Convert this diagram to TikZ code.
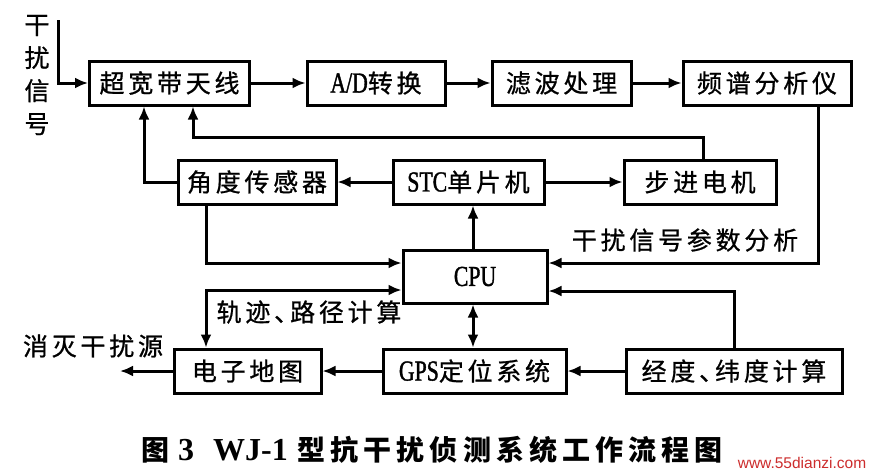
\documentclass[tikz,border=0pt]{standalone}
\usepackage{fontspec}
\setmainfont{Liberation Serif}
\newfontfamily\cjk{Noto Sans CJK SC}[LetterSpace=15,FakeBold=0.8]
\newfontfamily\cjkcap{Noto Sans CJK SC}[LetterSpace=18]
\newfontfamily\latn{Liberation Serif}[FakeStretch=0.75,FakeBold=1.3]
\newfontfamily\wmfont{Liberation Sans}
\usetikzlibrary{arrows.meta,calc}
\definecolor{wmred}{RGB}{205,45,45}
\newcommand\bxf{\cjk\fontsize{25}{30}\selectfont}
\newcommand\latx[1]{{\latn\fontsize{29}{30}\selectfont #1}}
\newcommand\dun{、\hspace{-9pt}}
\tikzset{
  box/.style={draw, line width=3pt, inner sep=0pt, minimum height=44pt, font=\bxf},
  arr/.style={line width=3pt, -{Latex[length=13pt,width=11pt]}},
  dblarr/.style={line width=3pt, {Latex[length=13pt,width=11pt]}-{Latex[length=13pt,width=11pt]}},
  lbl/.style={inner sep=0pt, font=\bxf},
}
\begin{document}
\begin{tikzpicture}[x=1pt,y=-1pt]
\fill[white] (0,0) rectangle (872,475);
\useasboundingbox (0,0) rectangle (872,475);
% top row
\node[box, minimum width=160pt] (ant) at (169.5,83) {超宽带天线};
\node[box, minimum width=138pt] (ad) at (376,83) {\latx{A/D}转换};
\node[box, minimum width=139pt] (filt) at (561.5,83) {滤波处理};
\node[box, minimum width=168pt] (spec) at (767,83) {频谱分析仪};
% second row
\node[box, minimum width=158pt] (angle) at (257,182) {角度传感器};
\node[box, minimum width=151pt] (stc) at (468.5,182) {\latx{STC}单片机};
\node[box, minimum width=152pt] (stepm) at (700,182) {步进电机};
% cpu
\node[box, minimum width=144pt, minimum height=53pt] (cpu) at (475,276.5) {\latx{CPU}};
% bottom row
\node[box, minimum width=147pt] (map) at (247.5,371) {电子地图};
\node[box, minimum width=183pt] (gps) at (474.5,371) {\latx{GPS}定位系统};
\node[box, minimum width=216pt] (lonlat) at (734,371) {经度\dun 纬度计算};
% labels
\node[inner sep=0pt, align=center, font=\cjk\fontsize{25}{33}\selectfont] (sigl) at (37,75) {干\\扰\\信\\号};
\node[lbl] (lblA) at (685,240) {干扰信号参数分析};
\node[lbl] (lblB) at (309,312) {轨迹\dun 路径计算};
\node[lbl] (lblC) at (93,346) {消灭干扰源};
% connectors
\coordinate (sig) at (58,20);
\draw[arr] (sig) |- (ant.west);
\draw[arr] (ant.east) -- (ad.west);
\draw[arr] (ad.east) -- (filt.west);
\draw[arr] (filt.east) -- (spec.west);
\coordinate (fb) at (193,137);
\draw[arr] ([xshift=3pt]stepm.north) |- (fb) -- (fb |- ant.south);
\draw[arr] (angle.west) -| ([xshift=-25.5pt]ant.south);
\draw[arr] (stc.west) -- (angle.east);
\draw[arr] (stc.east) -- (stepm.west);
\draw[arr] (cpu.north -| stc.south) ++(4.5pt,0) -- ([xshift=4.5pt]stc.south);
\draw[arr] ([xshift=-51pt]angle.south) |- ([yshift=13.5pt]cpu.west);
\draw[dblarr] ([yshift=-13.5pt]cpu.west) -| ([xshift=-41.5pt]map.north);
\draw[arr] ([xshift=51pt]spec.south) |- ([yshift=13.5pt]cpu.east);
\draw[arr] (lonlat.north) |- ([yshift=-14.5pt]cpu.east);
\draw[dblarr] ([xshift=-2pt]cpu.south) -- ([xshift=-1.5pt]gps.north);
\draw[arr] (gps.west) -- (map.east);
\draw[arr] (lonlat.west) -- (gps.east);
\coordinate (outp) at (120,371);
\draw[arr] (map.west) -- (outp);
% caption
\node[inner sep=0pt, anchor=west] (cap) at (141,450) {{\cjkcap\bfseries\fontsize{28}{30}\selectfont 图}\hspace{9pt}{\bfseries\fontsize{32}{34}\selectfont 3\hspace{19pt}WJ-1}\hspace{10pt}{\cjkcap\bfseries\fontsize{28}{30}\selectfont 型抗干扰侦测系统工作流程图}};
\node[inner sep=0pt, text=wmred, font=\wmfont\fontsize{15.5}{16}\selectfont] (wmk) at (802,463) {www.55dianzi.com};
\end{tikzpicture}
\end{document}
